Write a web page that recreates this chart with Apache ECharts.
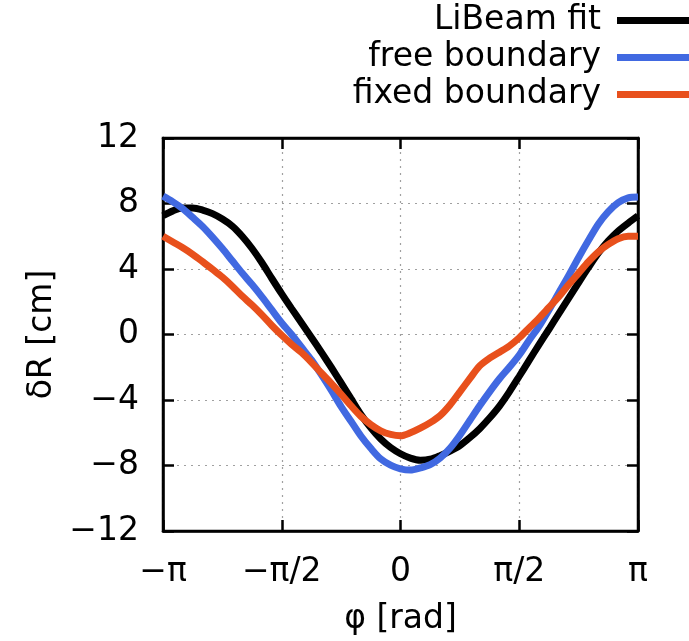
<!DOCTYPE html>
<html>
<head>
<meta charset="utf-8">
<script src="https://cdn.jsdelivr.net/npm/echarts@6/dist/echarts.min.js"></script>
<style>
  html, body { margin: 0; padding: 0; background: #fff; }
  #chart { width: 689px; height: 641px; }
</style>
</head>
<body>
<div id="chart"></div>
<script>
// Toroidal angle samples, in steps of pi/24 from -pi to pi
const phiSteps = [-24, -23, -22, -21, -20, -19, -18, -17, -16, -15, -14, -13, -12,
                  -11, -10, -9, -8, -7, -6, -5, -4, -3, -2, -1, 0,
                  1, 2, 3, 4, 5, 6, 7, 8, 9, 10, 11, 12,
                  13, 14, 15, 16, 17, 18, 19, 20, 21, 22, 23, 24];

// Radial displacement dR [cm] at each angle
const libeamFit = [
  7.25, 7.55, 7.72, 7.72, 7.6, 7.38, 7.05, 6.62, 6.0, 5.25, 4.38, 3.42, 2.48,
  1.58, 0.7, -0.18, -1.08, -2.0, -2.95, -3.92, -4.88, -5.7, -6.38, -6.9, -7.28,
  -7.55, -7.68, -7.62, -7.4, -7.12, -6.78, -6.3, -5.75, -5.1, -4.37, -3.5, -2.55,
  -1.58, -0.62, 0.32, 1.27, 2.22, 3.17, 4.1, 4.98, 5.72, 6.32, 6.8, 7.25];
const freeBoundary = [
  8.45, 8.1, 7.68, 7.15, 6.6, 5.95, 5.25, 4.5, 3.75, 3.05, 2.3, 1.5, 0.7,
  0.0, -0.78, -1.55, -2.45, -3.4, -4.4, -5.3, -6.2, -6.95, -7.6, -7.98, -8.2,
  -8.28, -8.15, -7.95, -7.55, -6.95, -6.15, -5.25, -4.35, -3.5, -2.7, -2.0, -1.25,
  -0.35, 0.5, 1.5, 2.55, 3.6, 4.7, 5.75, 6.75, 7.5, 8.05, 8.35, 8.4];
const fixedBoundary = [
  6.0, 5.65, 5.3, 4.9, 4.45, 3.98, 3.5, 2.95, 2.35, 1.8, 1.2, 0.55, -0.05,
  -0.6, -1.1, -1.7, -2.35, -2.98, -3.65, -4.35, -5.0, -5.5, -5.88, -6.1, -6.18,
  -6.0, -5.72, -5.38, -4.95, -4.3, -3.5, -2.7, -1.92, -1.45, -1.08, -0.7, -0.2,
  0.4, 1.0, 1.65, 2.3, 3.05, 3.75, 4.45, 5.05, 5.5, 5.85, 6.0, 6.0];

const seriesNames = ['LiBeam fit', 'free boundary', 'fixed boundary'];
const seriesColors = ['#000000', '#4169e1', '#e8501c'];
const seriesValues = [libeamFit, freeBoundary, fixedBoundary];

const xTickLabels = ['\u2212\u03c0', '\u2212\u03c0/2', '0', '\u03c0/2', '\u03c0'];
const yTicks = { min: -12, max: 12, step: 4 };

const FONT = 'DejaVu Sans';
const FS = 33;

const phi = phiSteps.map(k => k * Math.PI / 24);

function xLabel(v) {
  const idx = Math.round(v / (Math.PI / 2)) + 2;
  return xTickLabels[idx] || '';
}
function yLabel(v) {
  return String(v).replace('-', '\u2212');
}

function gridLine() {
  return { show: true, lineStyle: { color: '#a0a0a0', type: [2, 5], width: 1.2 } };
}
function tickStyle() {
  return { show: true, inside: true, length: 11, lineStyle: { color: '#000', width: 2.5 } };
}
function frameLine() {
  return { show: true, onZero: false, lineStyle: { color: '#000', width: 2.5 } };
}

const chart = echarts.init(document.getElementById('chart'), null, { renderer: 'canvas' });

chart.setOption({
  animation: false,
  backgroundColor: '#fff',
  textStyle: { fontFamily: FONT },
  grid: {
    left: 163, right: 51, top: 138, bottom: 109,
    show: true, borderColor: '#000', borderWidth: 2.5, backgroundColor: 'transparent'
  },
  legend: {
    orient: 'vertical',
    right: -17,
    top: -3,
    align: 'right',
    icon: 'rect',
    itemWidth: 84,
    itemHeight: 7,
    itemGap: 0,
    textStyle: { fontFamily: FONT, fontSize: FS, color: '#000', padding: [0, 11, 0, 0], lineHeight: 37 },
    data: seriesNames
  },
  xAxis: [{
    type: 'value',
    min: -Math.PI, max: Math.PI, interval: Math.PI / 2,
    axisLine: frameLine(),
    axisTick: tickStyle(),
    splitLine: gridLine(),
    axisLabel: { formatter: xLabel, fontFamily: FONT, fontSize: FS, color: '#000', margin: 25 },
    name: '\u03c6 [rad]',
    nameLocation: 'middle',
    nameGap: 72,
    nameTextStyle: { fontFamily: FONT, fontSize: FS, color: '#000' }
  }, {
    type: 'value', position: 'top',
    min: -Math.PI, max: Math.PI, interval: Math.PI / 2,
    axisLine: frameLine(),
    axisTick: tickStyle(),
    splitLine: { show: false },
    axisLabel: { show: false }
  }],
  yAxis: [{
    type: 'value',
    min: yTicks.min, max: yTicks.max, interval: yTicks.step,
    axisLine: frameLine(),
    axisTick: tickStyle(),
    splitLine: gridLine(),
    axisLabel: { formatter: yLabel, fontFamily: FONT, fontSize: FS, color: '#000', margin: 24 },
    name: '\u03b4R [cm]',
    nameLocation: 'middle',
    nameRotate: 90,
    nameGap: 96,
    nameTextStyle: { fontFamily: FONT, fontSize: FS, color: '#000' }
  }, {
    type: 'value', position: 'right',
    min: yTicks.min, max: yTicks.max, interval: yTicks.step,
    axisLine: frameLine(),
    axisTick: tickStyle(),
    splitLine: { show: false },
    axisLabel: { show: false }
  }],
  series: seriesNames.map((name, i) => ({
    name: name,
    type: 'line',
    smooth: 0.3,
    showSymbol: false,
    symbol: 'none',
    color: seriesColors[i],
    lineStyle: { width: 7, color: seriesColors[i] },
    data: phi.map((p, j) => [p, seriesValues[i][j]])
  }))
});
</script>
</body>
</html>
